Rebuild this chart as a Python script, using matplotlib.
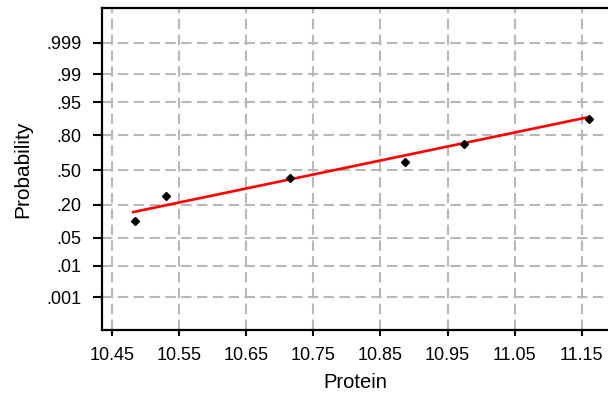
import math
import numpy as np
import matplotlib
matplotlib.use("Agg")
from matplotlib import pyplot as plt

# Data
protein = [10.485, 10.531, 10.715, 10.886, 10.974, 11.160]
probability = [0.109, 0.266, 0.422, 0.578, 0.734, 0.891]

# fitted normal line (end points)
fit_x = [10.482, 11.161]
fit_p = [0.1534, 0.9015]

prob_ticks = [0.001, 0.01, 0.05, 0.20, 0.50, 0.80, 0.95, 0.99, 0.999]
prob_labels = ['.001', '.01', '.05', '.20', '.50', '.80', '.95', '.99', '.999']
x_ticks = [10.45, 10.55, 10.65, 10.75, 10.85, 10.95, 11.05, 11.15]


# inverse normal cdf (Acklam approximation) for the probability scale
A = [-3.969683028665376e+01, 2.209460984245205e+02, -2.759285104469687e+02,
     1.383577518672690e+02, -3.066479806614716e+01, 2.506628277459239e+00]
B = [-5.447609879822406e+01, 1.615858368580409e+02, -1.556989798598866e+02,
     6.680131188771972e+01, -1.328068155288572e+01]
C = [-7.784894002430293e-03, -3.223964580411365e-01, -2.400758276161838e+00,
     -2.549732539343734e+00, 4.374664141464968e+00, 2.938163982698783e+00]
D = [7.784695709041462e-03, 3.224671290700398e-01, 2.445134137142996e+00,
     3.754408661907416e+00]


def _ppf1(p):
    p = min(max(p, 1e-12), 1 - 1e-12)
    if p < 0.02425:
        q = math.sqrt(-2 * math.log(p))
        return (((((C[0]*q+C[1])*q+C[2])*q+C[3])*q+C[4])*q+C[5]) / \
            ((((D[0]*q+D[1])*q+D[2])*q+D[3])*q+1)
    if p > 1 - 0.02425:
        return -_ppf1(1 - p)
    q = p - 0.5
    r = q * q
    return (((((A[0]*r+A[1])*r+A[2])*r+A[3])*r+A[4])*r+A[5])*q / \
        (((((B[0]*r+B[1])*r+B[2])*r+B[3])*r+B[4])*r+1)


def norm_ppf(p):
    return np.vectorize(_ppf1, otypes=[float])(np.asarray(p, float))


def norm_cdf(z):
    f = np.vectorize(lambda v: 0.5 * (1 + math.erf(v / math.sqrt(2))), otypes=[float])
    return f(np.asarray(z, float))


plt.rcParams['font.family'] = ['Liberation Sans', 'DejaVu Sans']

fig = plt.figure(figsize=(6.08, 3.94), dpi=100)
ax = fig.add_axes([102 / 608, 64 / 394, 1 - 102 / 608, 322 / 394])

ax.set_yscale('function', functions=(norm_ppf, norm_cdf))

ax.plot(fit_x, fit_p, color='red', linewidth=1.9, zorder=3)
ax.plot(protein, probability, linestyle='none', marker='D', markersize=4.2,
        color='black', zorder=4)

ax.set_xlim(10.4355, 11.189)
ax.set_ylim(norm_cdf(-3.89), norm_cdf(3.94))
ax.set_xticks(x_ticks)
ax.set_xticklabels([f"{v:.2f}" for v in x_ticks])
ax.set_yticks(prob_ticks)
ax.set_yticklabels(prob_labels)
ax.minorticks_off()

ax.grid(True, color='#b8b8b8', linestyle=(0, (5, 2.6)), linewidth=1.5)
ax.set_axisbelow(True)

ax.spines['right'].set_visible(False)
for s in ['left', 'bottom', 'top']:
    ax.spines[s].set_linewidth(1.6)
ax.tick_params(axis='both', direction='out', width=1.5,
               labelsize=13, colors='black')
ax.tick_params(axis='y', length=6.5, pad=8)
ax.tick_params(axis='x', length=4.5, pad=8)

ax.set_xlabel('Protein', fontsize=14.5, labelpad=6)
ax.set_ylabel('Probability', fontsize=15, labelpad=10)

fig.savefig('out.png', dpi=100)
